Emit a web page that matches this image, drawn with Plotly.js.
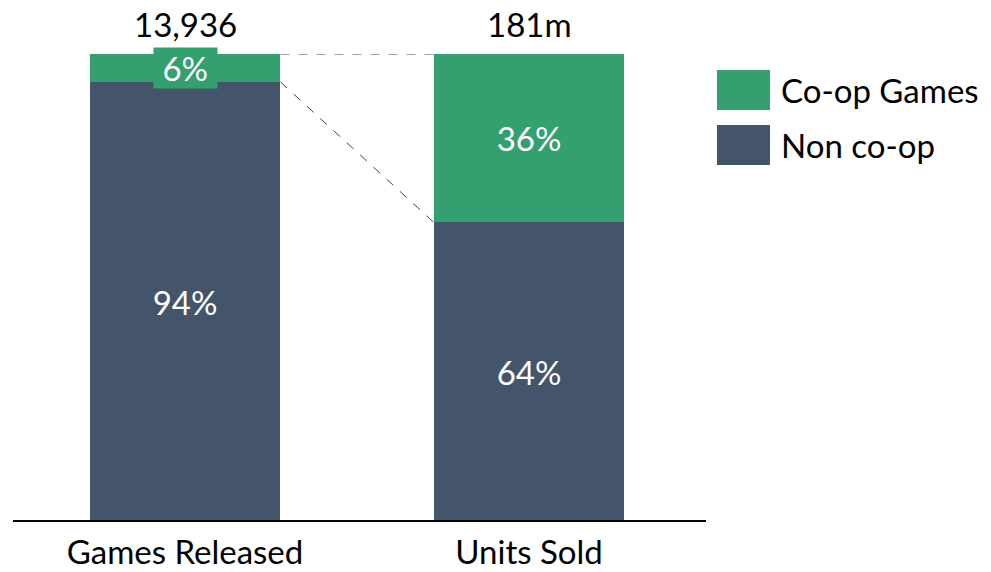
<!DOCTYPE html>
<html>
<head>
<meta charset="utf-8">
<script src="https://cdn.plot.ly/plotly-3.0.1.min.js"></script>
<style>html,body{margin:0;padding:0;background:#fff;}#chart{width:991px;height:572px;}</style>
</head>
<body>
<div id="chart"></div>
<script>
var categories = ["Games Released", "Units Sold"];
var coopShare = [6, 36];
var nonCoopShare = [94, 64];
var totalLabels = ["13,936", "181m"];
var seriesNames = ["Co-op Games", "Non co-op"];

var GREEN = "#34A06F";
var DARK = "#44546A";
var FONT = "Lato, 'Open Sans', sans-serif";
var FS = 33;
var BW = 0.555;

var xIdx = categories.map(function(c, i){ return i; });

var traces = [
  {type: "bar", name: seriesNames[1], x: xIdx, y: nonCoopShare, width: BW,
   marker: {color: DARK}, hoverinfo: "skip",
   text: nonCoopShare.map(function(v){ return v + "%"; }),
   textposition: "inside", insidetextanchor: "middle", constraintext: "none",
   textfont: {family: FONT, size: FS, color: "#ffffff"}},
  {type: "bar", name: seriesNames[0], x: xIdx, y: coopShare, width: BW,
   marker: {color: GREEN}, hoverinfo: "skip",
   text: coopShare.map(function(v){ return v >= 10 ? v + "%" : ""; }),
   textposition: "inside", insidetextanchor: "middle", constraintext: "none",
   textfont: {family: FONT, size: FS, color: "#ffffff"}}
];

var annotations = [];
xIdx.forEach(function(i){
  var top = coopShare[i] + nonCoopShare[i];
  annotations.push({x: i, y: top, xref: "x", yref: "y", text: totalLabels[i],
    showarrow: false, yanchor: "bottom", yshift: 8,
    font: {family: FONT, size: FS, color: "#000"}});
  if (coopShare[i] < 10) {
    annotations.push({x: i, y: nonCoopShare[i] + coopShare[i] / 2, xref: "x", yref: "y",
      text: "&nbsp;" + coopShare[i] + "%&nbsp;", showarrow: false, bgcolor: GREEN, borderpad: 0, yshift: 0,
      font: {family: FONT, size: FS, color: "#fff"}});
  }
});

// legend drawn manually (big swatches)
var plotL = 13, plotW = 688, plotT = 54, plotH = 467;
function px(x){ return (x - plotL) / plotW; }
function py(y){ return (plotT + plotH - y) / plotH; }
var legendColors = [GREEN, DARK];
var legendTops = [70, 125];
var shapes = [];
legendTops.forEach(function(t, k){
  shapes.push({type: "rect", xref: "paper", yref: "paper",
    x0: px(717), x1: px(770), y0: py(t), y1: py(t + 40),
    fillcolor: legendColors[k], line: {width: 0}});
  annotations.push({xref: "paper", yref: "paper", x: px(779), y: py(t + 20),
    xanchor: "left", yanchor: "middle", text: seriesNames[k], showarrow: false,
    font: {family: FONT, size: FS, color: "#000"}});
});

// connector dashed lines
shapes.push({type: "line", xref: "x", yref: "y",
  x0: BW / 2, x1: 1 - BW / 2, y0: 100, y1: 100,
  line: {color: "#444", width: 1, dash: "dash"}});
shapes.push({type: "line", xref: "x", yref: "y",
  x0: BW / 2, x1: 1 - BW / 2, y0: nonCoopShare[0], y1: nonCoopShare[1],
  line: {color: "#444", width: 1, dash: "dash"}});
// extend baseline slightly beyond plot like the reference
shapes.push({type: "line", xref: "paper", yref: "paper",
  x0: 0, x1: px(706), y0: 0, y1: 0, line: {color: "#000", width: 2}});

var layout = {
  width: 991, height: 572,
  margin: {l: plotL, r: 991 - plotL - plotW, t: plotT, b: 572 - plotT - plotH},
  barmode: "stack",
  showlegend: false,
  paper_bgcolor: "#fff", plot_bgcolor: "#fff",
  xaxis: {range: [-0.5, 1.5], tickvals: xIdx, ticktext: categories,
    showgrid: false, zeroline: false, showline: false,
    ticks: "", ticklabelstandoff: 9, tickfont: {family: FONT, size: FS, color: "#000"}, fixedrange: true},
  yaxis: {range: [0, 100], visible: false, showgrid: false, zeroline: false, fixedrange: true},
  shapes: shapes,
  annotations: annotations,
  font: {family: FONT}
};

Plotly.newPlot("chart", traces, layout, {displayModeBar: false, staticPlot: true});
</script>
</body>
</html>
